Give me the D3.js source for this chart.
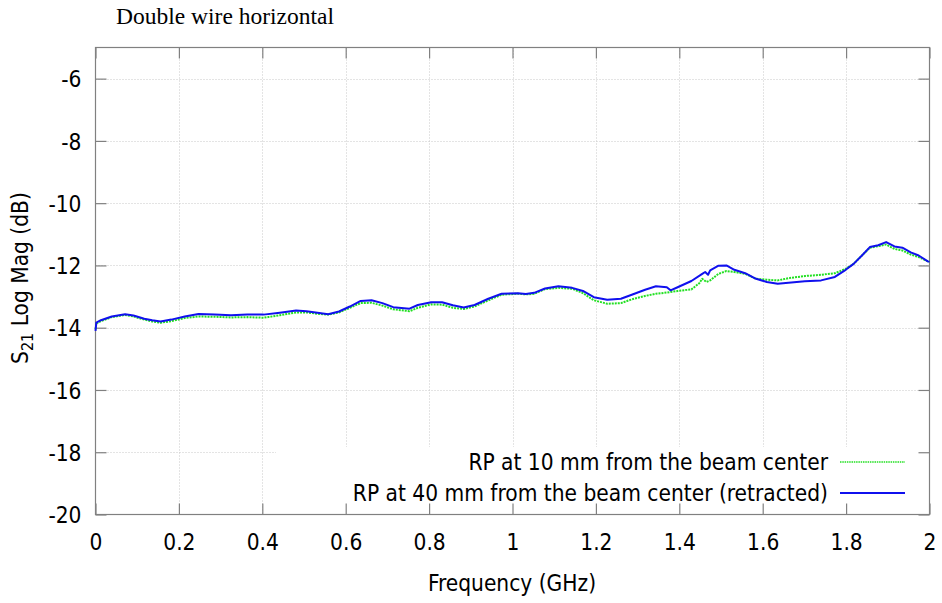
<!DOCTYPE html>
<html>
<head>
<meta charset="utf-8">
<script src="https://cdn.jsdelivr.net/npm/d3@7"></script>
<style>
  html, body { margin: 0; padding: 0; background: #fff; }
  svg { display: block; }
  .lbl { font-family: "DejaVu Sans Condensed", "DejaVu Sans", sans-serif; fill: #000; }
</style>
</head>
<body>
<svg id="chart" width="942" height="603"></svg>
<script>
// Frequency sweep (GHz) with S21 magnitude (dB) for two roman-pot positions
const freqRP10 = [0, 0.002, 0.013, 0.039, 0.071, 0.091, 0.117, 0.136, 0.156, 0.182, 0.214, 0.247, 0.286, 0.325, 0.364, 0.403, 0.442, 0.481, 0.506, 0.532, 0.558, 0.584, 0.610, 0.636, 0.662, 0.688, 0.714, 0.753, 0.773, 0.805, 0.831, 0.857, 0.883, 0.909, 0.942, 0.974, 1.013, 1.032, 1.052, 1.078, 1.110, 1.143, 1.169, 1.195, 1.227, 1.260, 1.286, 1.318, 1.344, 1.370, 1.396, 1.429, 1.448, 1.455, 1.465, 1.474, 1.494, 1.513, 1.532, 1.558, 1.584, 1.610, 1.636, 1.662, 1.701, 1.740, 1.773, 1.799, 1.818, 1.838, 1.857, 1.877, 1.896, 1.916, 1.935, 1.955, 1.974, 1.996, 2.0];
const s21RP10 = [-14.05, -13.86, -13.79, -13.66, -13.59, -13.64, -13.74, -13.80, -13.84, -13.79, -13.69, -13.64, -13.65, -13.67, -13.66, -13.68, -13.60, -13.51, -13.51, -13.55, -13.58, -13.51, -13.36, -13.21, -13.20, -13.29, -13.41, -13.47, -13.36, -13.25, -13.26, -13.36, -13.40, -13.32, -13.12, -12.94, -12.91, -12.93, -12.91, -12.76, -12.72, -12.75, -12.89, -13.12, -13.23, -13.21, -13.09, -12.98, -12.91, -12.87, -12.82, -12.77, -12.57, -12.43, -12.53, -12.48, -12.27, -12.18, -12.21, -12.27, -12.43, -12.46, -12.48, -12.41, -12.34, -12.30, -12.25, -12.11, -11.95, -11.68, -11.43, -11.38, -11.33, -11.47, -11.52, -11.65, -11.73, -11.87, -11.88];

const freqRP40 = [0, 0.002, 0.013, 0.039, 0.071, 0.091, 0.117, 0.136, 0.156, 0.182, 0.214, 0.247, 0.286, 0.325, 0.364, 0.403, 0.442, 0.481, 0.506, 0.532, 0.558, 0.584, 0.610, 0.636, 0.662, 0.688, 0.714, 0.753, 0.773, 0.805, 0.831, 0.857, 0.883, 0.909, 0.942, 0.974, 1.013, 1.032, 1.052, 1.078, 1.110, 1.143, 1.169, 1.195, 1.227, 1.260, 1.286, 1.318, 1.344, 1.370, 1.379, 1.396, 1.429, 1.455, 1.462, 1.469, 1.474, 1.494, 1.513, 1.532, 1.558, 1.584, 1.610, 1.636, 1.662, 1.701, 1.740, 1.773, 1.799, 1.818, 1.838, 1.857, 1.877, 1.896, 1.916, 1.935, 1.955, 1.974, 1.996, 2.0];
const s21RP40 = [-14.1, -13.84, -13.76, -13.64, -13.57, -13.61, -13.71, -13.76, -13.80, -13.74, -13.64, -13.56, -13.58, -13.60, -13.58, -13.58, -13.52, -13.45, -13.47, -13.52, -13.57, -13.48, -13.32, -13.14, -13.12, -13.21, -13.34, -13.39, -13.27, -13.18, -13.18, -13.28, -13.35, -13.27, -13.07, -12.91, -12.89, -12.92, -12.88, -12.74, -12.67, -12.72, -12.82, -13.02, -13.10, -13.07, -12.94, -12.78, -12.67, -12.70, -12.80, -12.70, -12.50, -12.27, -12.21, -12.30, -12.16, -12.01, -12.00, -12.14, -12.25, -12.43, -12.53, -12.59, -12.56, -12.51, -12.48, -12.37, -12.14, -11.95, -11.68, -11.41, -11.35, -11.25, -11.39, -11.43, -11.58, -11.68, -11.87, -11.88];

const xTicks = [0, 0.2, 0.4, 0.6, 0.8, 1, 1.2, 1.4, 1.6, 1.8, 2];
const yTicks = [-20, -18, -16, -14, -12, -10, -8, -6];
const seriesNames = ["RP at 10 mm from the beam center", "RP at 40 mm from the beam center (retracted)"];
const seriesColors = ["#22e022", "#1010ee"];
const chartTitle = "Double wire horizontal";
const xTitle = "Frequency (GHz)";

const svg = d3.select("#chart");
const L = 95.5, R = 929.5, T = 47.5, B = 514.5;
const fontSize = 22.5;

const x = d3.scaleLinear().domain([0, 2]).range([L, R]);
const y = d3.scaleLinear().domain([-20, -5]).range([B, T]);

// Title above the frame
svg.append("text")
  .attr("x", 116).attr("y", 24)
  .attr("font-family", "'Liberation Serif', 'Times New Roman', serif")
  .attr("font-size", 23.5)
  .text(chartTitle);

// Dotted grid
const grid = svg.append("g");
grid.selectAll("line.gx").data(xTicks.slice(1, -1)).join("line")
  .attr("x1", d => Math.round(x(d)) + 0.5).attr("x2", d => Math.round(x(d)) + 0.5)
  .attr("y1", T).attr("y2", B)
  .attr("stroke", "#c8c8c8").attr("stroke-width", 1).attr("stroke-dasharray", "1,2");
grid.selectAll("line.gy").data(yTicks.slice(1)).join("line")
  .attr("y1", d => Math.round(y(d)) + 0.5).attr("y2", d => Math.round(y(d)) + 0.5)
  .attr("x1", L).attr("x2", R)
  .attr("stroke", "#c8c8c8").attr("stroke-width", 1).attr("stroke-dasharray", "1,2");

// Legend background covers the grid in its corner
svg.append("rect")
  .attr("x", 276).attr("y", 447).attr("width", R - 276).attr("height", B - 447)
  .attr("fill", "#fff");

// Axes with inward ticks on all four sides
const tickLen = 11;
const axisColor = "#808080";
const fmt = d => String(d);
const axB = d3.axisBottom(x).tickValues(xTicks).tickSize(-tickLen).tickFormat(fmt);
const axT = d3.axisTop(x).tickValues(xTicks).tickSize(-tickLen).tickFormat("");
const axLft = d3.axisLeft(y).tickValues(yTicks).tickSize(-tickLen).tickFormat(fmt);
const axRgt = d3.axisRight(y).tickValues(yTicks).tickSize(-tickLen).tickFormat("");

function styleAxis(g) {
  g.select(".domain").remove();
  g.selectAll(".tick line").attr("stroke", axisColor).attr("stroke-width", 1.2);
  g.selectAll(".tick text")
    .attr("class", "lbl")
    .attr("font-size", fontSize)
    .attr("fill", "#000");
}
svg.append("g").attr("transform", `translate(0,${B})`).call(axB).call(styleAxis)
  .selectAll(".tick text").attr("dy", "0.36em").attr("y", 27);
svg.append("g").attr("transform", `translate(0,${T})`).call(axT).call(styleAxis);
svg.append("g").attr("transform", `translate(${L},0)`).call(axLft).call(styleAxis)
  .selectAll(".tick text").attr("x", -14).attr("dy", "0.36em");
svg.append("g").attr("transform", `translate(${R},0)`).call(axRgt).call(styleAxis);
svg.selectAll(".tick text").attr("font-family", null);

// Frame
svg.append("rect")
  .attr("x", L).attr("y", T).attr("width", R - L).attr("height", B - T)
  .attr("fill", "none").attr("stroke", axisColor).attr("stroke-width", 1.2);

// Curves
const line = d3.line().x(d => x(d[0])).y(d => y(d[1]));
const rp10 = freqRP10.map((f, i) => [f, s21RP10[i]]);
const rp40 = freqRP40.map((f, i) => [f, s21RP40[i]]);

const plot = svg.append("g");
plot.append("path").datum(rp10).attr("d", line)
  .attr("fill", "none").attr("stroke", seriesColors[0]).attr("stroke-width", 2)
  .attr("stroke-dasharray", "2,1").attr("stroke-linejoin", "round");
plot.append("path").datum(rp40).attr("d", line)
  .attr("fill", "none").attr("stroke", seriesColors[1]).attr("stroke-width", 2)
  .attr("stroke-linejoin", "round");

// Legend
const legend = svg.append("g");
seriesNames.forEach((name, i) => {
  const ly = 462 + i * 31;
  legend.append("text").attr("class", "lbl")
    .attr("x", 828).attr("y", ly).attr("dy", "0.36em")
    .attr("text-anchor", "end").attr("font-size", fontSize)
    .text(name);
  legend.append("line")
    .attr("x1", 840).attr("x2", 905).attr("y1", ly).attr("y2", ly)
    .attr("stroke", seriesColors[i]).attr("stroke-width", i === 0 ? 1.5 : 2)
    .attr("stroke-dasharray", i === 0 ? "1.5,0.8" : null);
});

// Axis titles
svg.append("text").attr("class", "lbl")
  .attr("x", 512).attr("y", 583).attr("dy", "0.36em")
  .attr("text-anchor", "middle").attr("font-size", fontSize)
  .text(xTitle);

const yt = svg.append("text").attr("class", "lbl")
  .attr("transform", "translate(20,278) rotate(-90)")
  .attr("dy", "0.36em")
  .attr("text-anchor", "middle").attr("font-size", fontSize);
yt.append("tspan").text("S");
yt.append("tspan").attr("font-size", 16).attr("dy", "0.3em").text("21");
yt.append("tspan").attr("dy", "-0.21em").text(" Log Mag (dB)");
</script>
</body>
</html>
